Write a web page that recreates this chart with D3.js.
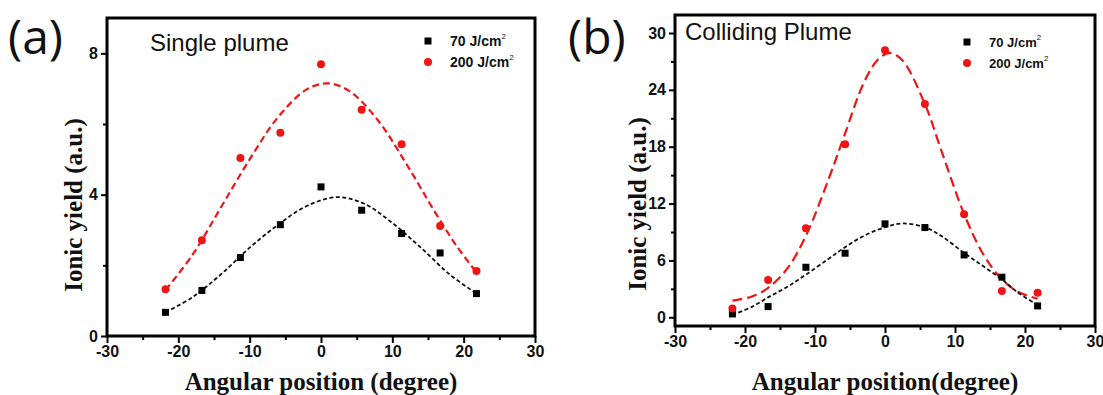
<!DOCTYPE html>
<html>
<head>
  <meta charset="utf-8">
  <title>Ionic yield vs angular position</title>
  <style>
    body { margin: 0; background: #fff; }
    .tick text { font-family: "Liberation Sans", Arial, sans-serif; font-weight: bold; font-size: 16px; fill: #111; }
    .tick line { stroke: #000; stroke-width: 2; }
    .domain { display: none; }
  </style>
</head>
<body>
  <script src="https://cdnjs.cloudflare.com/ajax/libs/d3/7.8.5/d3.min.js"></script>
  <script>
    // measured angles (degree) for every data series
    var angles = [-21.8, -16.7, -11.3, -5.7, 0, 5.7, 11.3, 16.7, 21.8];

    // (a) single plume
    var singleLow  = [0.67, 1.29, 2.22, 3.15, 4.22, 3.56, 2.9, 2.35, 1.2];
    var singleHigh = [1.32, 2.71, 5.04, 5.75, 7.69, 6.4, 5.43, 3.11, 1.84];
    // fitted curves
    var singleLowFitX  = [-21.8, -18, -14, -10, -6, -2, 2.3, 6, 10, 14, 18, 21.8];
    var singleLowFitY  = [0.67, 1.1, 1.75, 2.5, 3.15, 3.68, 3.93, 3.75, 3.2, 2.5, 1.75, 1.2];
    var singleHighFitX = [-21.8, -18, -14, -10, -6, -2, 1, 4, 8, 12, 16, 19, 21.8];
    var singleHighFitY = [1.3, 2.3, 3.65, 5.0, 6.2, 6.98, 7.15, 6.93, 6.1, 4.86, 3.5, 2.55, 1.8];

    // (b) colliding plume
    var collidingLow  = [0.35, 1.13, 5.28, 6.76, 9.86, 9.47, 6.58, 4.23, 1.2];
    var collidingHigh = [0.92, 3.94, 9.4, 18.27, 28.17, 22.5, 10.88, 2.78, 2.6];
    var collidingLowFitX  = [-21.8, -19, -16.7, -14, -11.3, -8, -5.7, -3, 0, 2.5, 5.7, 8, 11.3, 14, 16.7, 19, 21.8];
    var collidingLowFitY  = [0.25, 1.1, 2.1, 3.2, 4.5, 6.2, 7.4, 8.6, 9.5, 9.9, 9.5, 8.6, 6.8, 5.4, 4.0, 2.6, 1.3];
    var collidingHighFitX = [-21.8, -19, -16.7, -14, -11.3, -8, -5.7, -3, -1, 0.7, 2.5, 5.7, 8, 11.3, 14, 16.7, 19, 21.8];
    var collidingHighFitY = [1.75, 2.2, 3.1, 5.1, 8.6, 14.7, 19.4, 24.8, 27.2, 27.9, 27.1, 22.5, 17.7, 10.9, 6.7, 4.0, 2.7, 1.95];

    // ticks
    var xTicks = [-30, -20, -10, 0, 10, 20, 30];
    var xMinor = [-25, -15, -5, 5, 15, 25];
    var singleYTicks = [0, 4, 8];
    var singleYMinor = [2, 6];
    var collidingYTicks = [0, 6, 12, 18, 24, 30];
    var collidingYMinor = [3, 9, 15, 21, 27];

    var legendNames = ["70 J/cm", "200 J/cm"];

    var w = 1103, h = 395;
    var svg = d3.select("body").append("svg")
      .attr("width", w)
      .attr("height", h);

    function zip(xs, ys) {
      return xs.map(function(x, i) { return [x, ys[i]]; });
    }
    // plain hyphen for negatives, like the original plot
    var plain = function(d) { return String(d); };

    function drawPanel(p) {
      var x = d3.scaleLinear().domain([-30, 30]).range([p.left, p.right]);
      var y = d3.scaleLinear().domain(p.yDomain).range([p.bottom, p.top]);
      var g = svg.append("g");

      // minor + major ticks
      g.append("g")
        .attr("transform", "translate(0," + p.bottom + ")")
        .call(d3.axisBottom(x).tickValues(xMinor).tickSize(4).tickFormat(""));
      g.append("g")
        .attr("transform", "translate(0," + p.bottom + ")")
        .call(d3.axisBottom(x).tickValues(xTicks).tickSize(7).tickPadding(3).tickFormat(plain));
      g.append("g")
        .attr("transform", "translate(" + p.left + ",0)")
        .call(d3.axisLeft(y).tickValues(p.yMinor).tickSize(4).tickFormat(""));
      g.append("g")
        .attr("transform", "translate(" + p.left + ",0)")
        .call(d3.axisLeft(y).tickValues(p.yTicks).tickSize(6).tickPadding(3).tickFormat(plain));

      // frame
      g.append("rect")
        .attr("x", p.left).attr("y", p.top)
        .attr("width", p.right - p.left).attr("height", p.bottom - p.top)
        .attr("fill", "none").attr("stroke", "#000").attr("stroke-width", 3);

      var line = d3.line()
        .x(function(d) { return x(d[0]); })
        .y(function(d) { return y(d[1]); })
        .curve(d3.curveCatmullRom.alpha(0.5));

      g.append("path")
        .attr("d", line(zip(p.highFitX, p.highFitY)))
        .attr("fill", "none").attr("stroke", "#f01414")
        .attr("stroke-width", 2.2).attr("stroke-dasharray", p.redDash);
      g.append("path")
        .attr("d", line(zip(p.lowFitX, p.lowFitY)))
        .attr("fill", "none").attr("stroke", "#111")
        .attr("stroke-width", 1.8).attr("stroke-dasharray", "4,2.5");

      g.selectAll("rect.pt")
        .data(zip(angles, p.low))
        .enter().append("rect")
        .attr("class", "pt")
        .attr("x", function(d) { return x(d[0]) - 3.5; })
        .attr("y", function(d) { return y(d[1]) - 3.5; })
        .attr("width", 7).attr("height", 7)
        .attr("fill", "#000");
      g.selectAll("circle.pt")
        .data(zip(angles, p.high))
        .enter().append("circle")
        .attr("class", "pt")
        .attr("cx", function(d) { return x(d[0]); })
        .attr("cy", function(d) { return y(d[1]); })
        .attr("r", 4)
        .attr("fill", "#f01414");

      // legend
      var lg = g.append("g").attr("transform", "translate(" + p.legendX + "," + p.legendY + ")");
      lg.append("rect").attr("x", -3.5).attr("y", -3.5).attr("width", 7).attr("height", 7).attr("fill", "#000");
      lg.append("circle").attr("cx", 0).attr("cy", 21).attr("r", 4).attr("fill", "#f01414");
      legendNames.forEach(function(name, i) {
        var t = lg.append("text")
          .attr("x", p.legendTextDx).attr("y", i * 21 + 5)
          .style("font-family", "Liberation Sans, Arial, sans-serif")
          .style("font-weight", "bold")
          .style("font-size", p.legendSize + "px")
          .style("fill", "#111");
        t.append("tspan").text(name);
        t.append("tspan").attr("dy", -7).style("font-size", "8px").style("font-weight", "normal").text("2");
      });

      // panel letter and caption
      svg.append("text")
        .attr("x", p.letterX).attr("y", 54)
        .style("font-family", "Open Sans, sans-serif")
        .style("font-size", "48px")
        .style("fill", "#111")
        .text(p.letter);
      svg.append("text")
        .attr("x", p.captionX).attr("y", p.captionY)
        .style("font-family", "Liberation Sans, Arial, sans-serif")
        .style("font-size", "24px")
        .style("fill", "#111")
        .text(p.caption);

      // axis titles
      svg.append("text")
        .attr("transform", "translate(" + ((p.left + p.right) / 2) + "," + 390 + ")")
        .style("text-anchor", "middle")
        .style("font-family", "Liberation Serif, Times New Roman, serif")
        .style("font-weight", "bold")
        .style("font-size", "25px")
        .style("fill", "#111")
        .text(p.xTitle);
      svg.append("text")
        .attr("transform", "translate(" + p.yTitleX + "," + p.yTitleY + ") rotate(-90)")
        .style("text-anchor", "middle")
        .style("font-family", "Liberation Serif, Times New Roman, serif")
        .style("font-weight", "bold")
        .style("font-size", "25px")
        .style("fill", "#111")
        .text("Ionic yield (a.u.)");
    }

    drawPanel({
      left: 107, right: 535, top: 18, bottom: 336,
      yDomain: [0, 9], yTicks: singleYTicks, yMinor: singleYMinor,
      low: singleLow, high: singleHigh,
      lowFitX: singleLowFitX, lowFitY: singleLowFitY,
      highFitX: singleHighFitX, highFitY: singleHighFitY,
      redDash: "7,4",
      legendX: 428, legendY: 41, legendTextDx: 22, legendSize: 14,
      letter: "(a)", letterX: 8,
      caption: "Single plume", captionX: 150, captionY: 51,
      xTitle: "Angular position (degree)",
      yTitleX: 82, yTitleY: 205
    });

    drawPanel({
      left: 675, right: 1095, top: 15, bottom: 326,
      yDomain: [-0.92, 31.9], yTicks: collidingYTicks, yMinor: collidingYMinor,
      low: collidingLow, high: collidingHigh,
      lowFitX: collidingLowFitX, lowFitY: collidingLowFitY,
      highFitX: collidingHighFitX, highFitY: collidingHighFitY,
      redDash: "10,5",
      legendX: 967, legendY: 42, legendTextDx: 22, legendSize: 13,
      letter: "(b)", letterX: 568,
      caption: "Colliding Plume", captionX: 685, captionY: 40,
      xTitle: "Angular position(degree)",
      yTitleX: 646, yTitleY: 204
    });
  </script>
</body>
</html>
